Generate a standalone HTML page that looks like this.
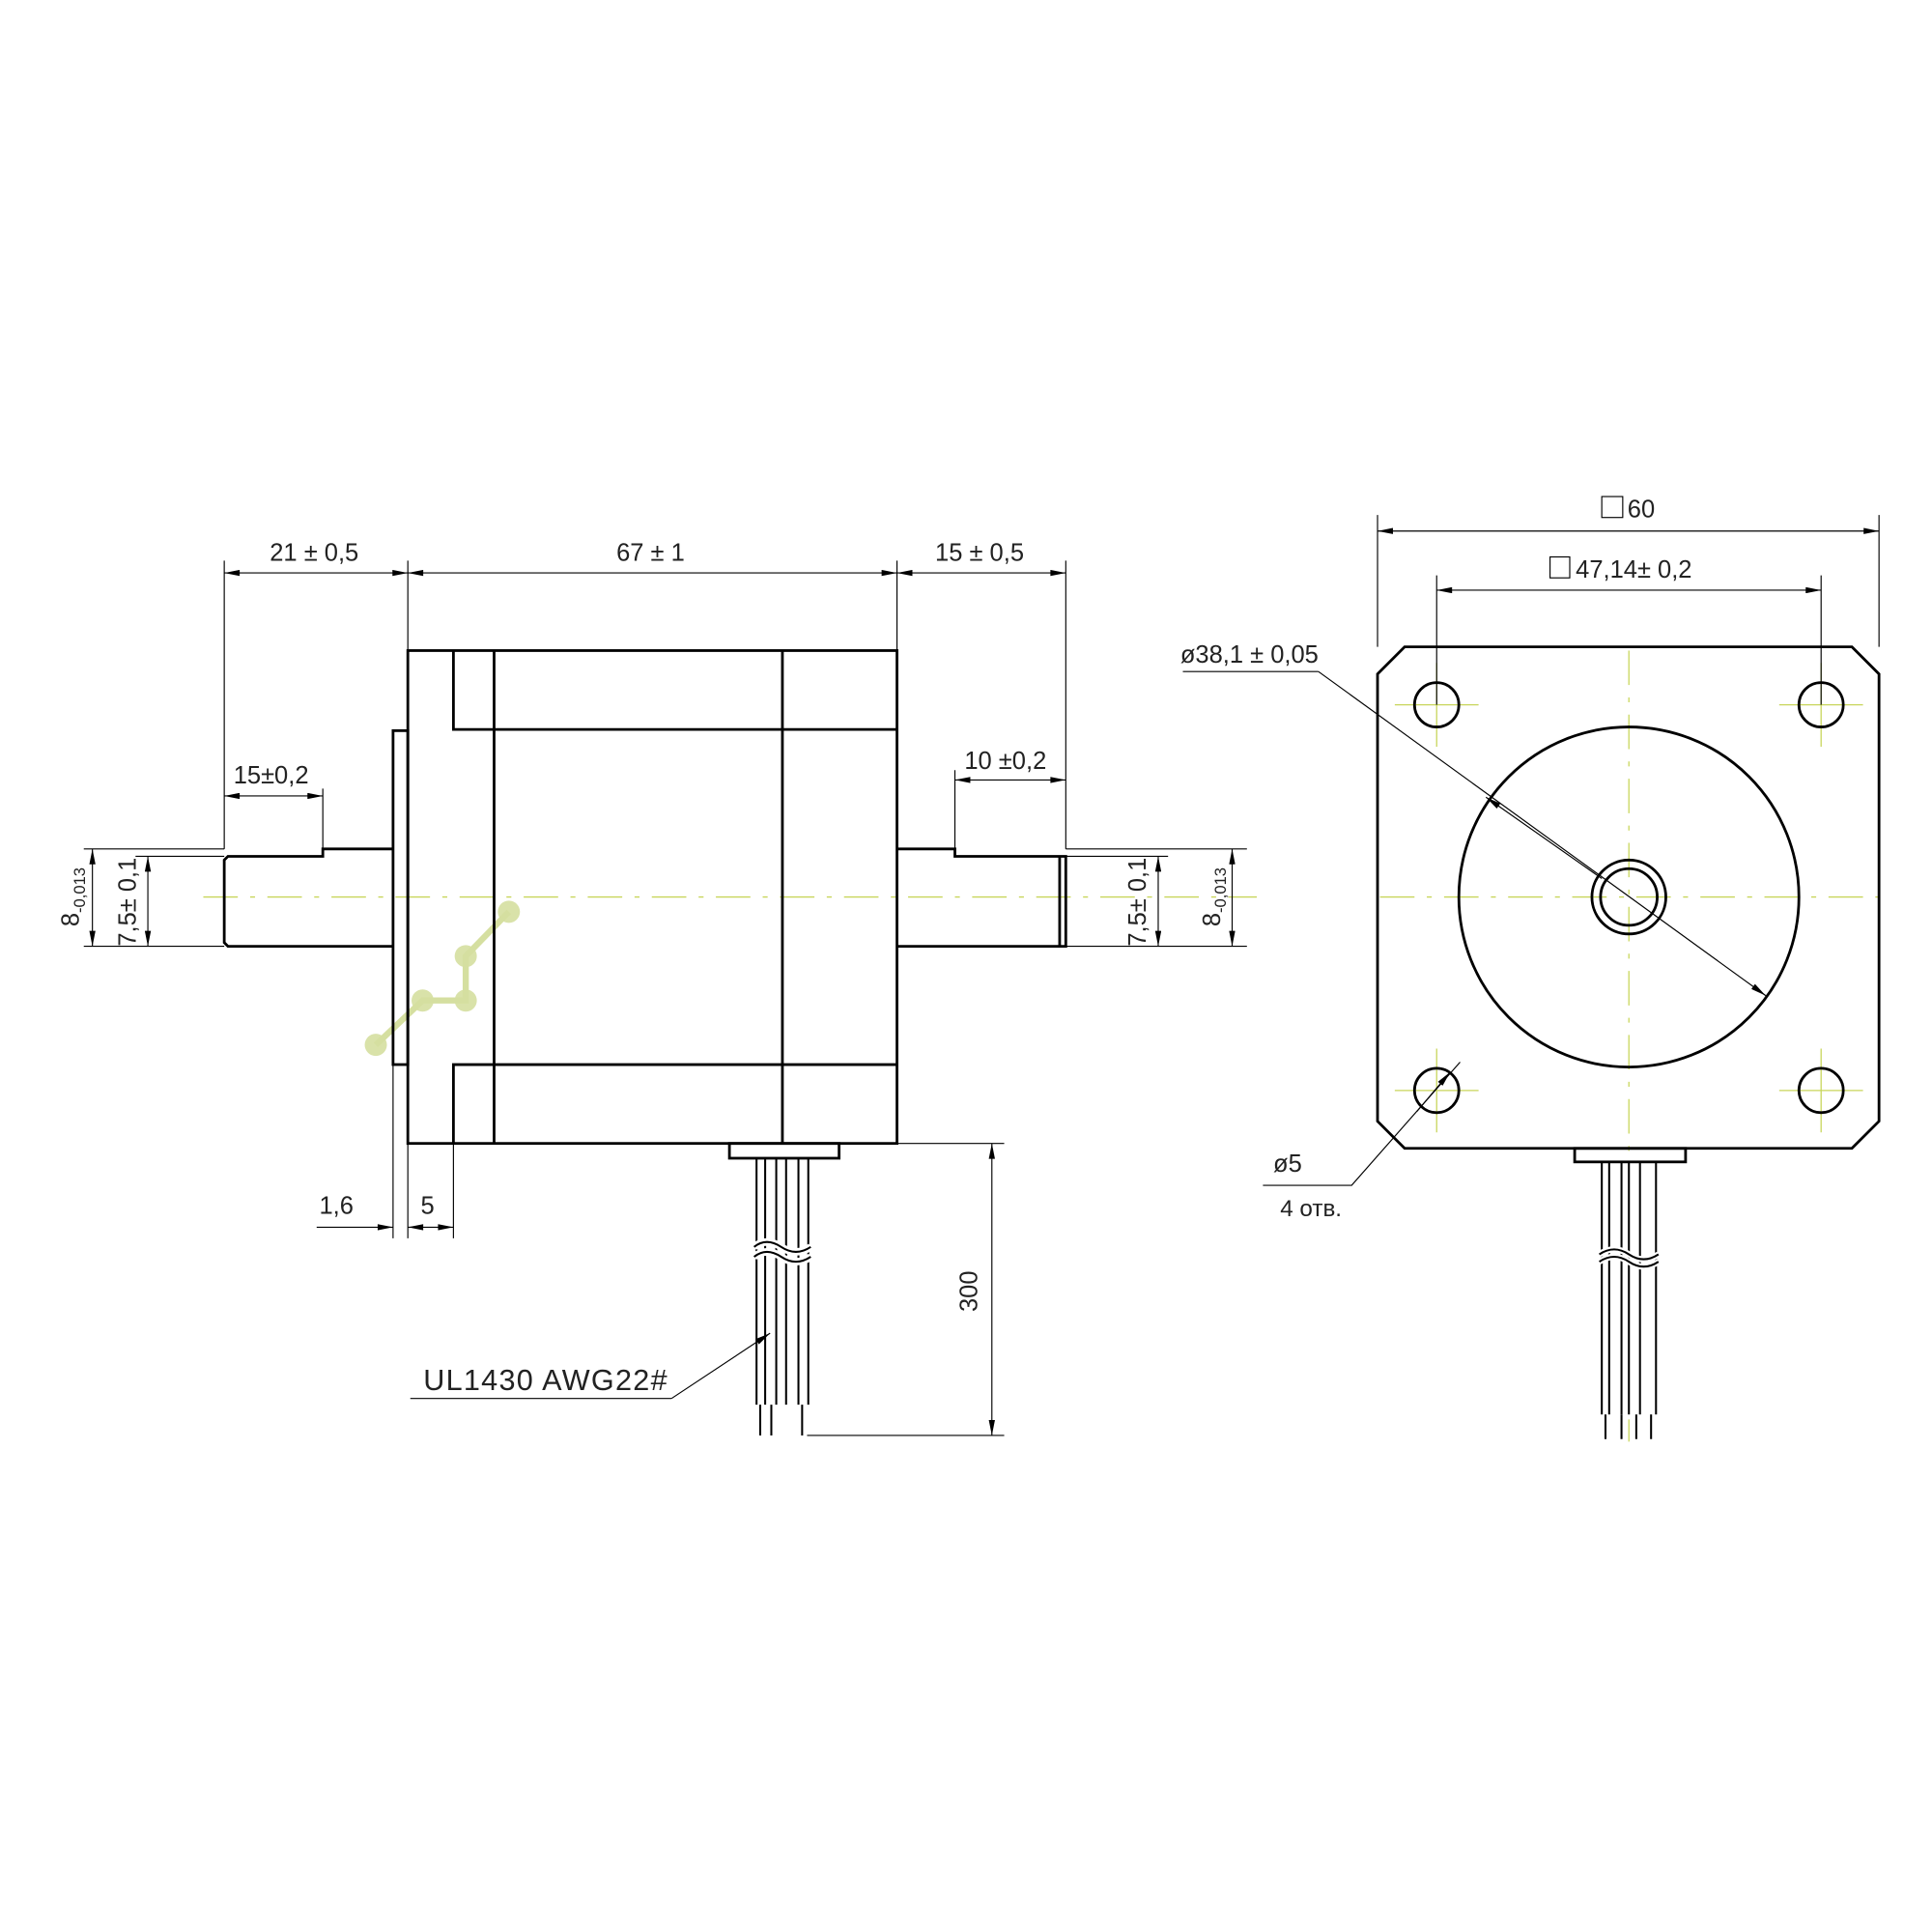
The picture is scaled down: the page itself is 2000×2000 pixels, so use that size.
<!DOCTYPE html>
<html><head><meta charset="utf-8"><style>html,body{margin:0;padding:0;background:#fff}svg{display:block}</style></head><body>
<svg width="2000" height="2000" viewBox="0 0 1568 1568" xmlns="http://www.w3.org/2000/svg">
<defs>
<marker id="a" viewBox="0 0 10 4" refX="10" refY="2" markerWidth="14" markerHeight="5" orient="auto-start-reverse" markerUnits="userSpaceOnUse"><path d="M0,0L10,2L0,4z" fill="#000"/></marker>
</defs>
<rect width="1568" height="1568" fill="#fff"/>
<g font-family="Liberation Sans, sans-serif" font-size="20" fill="#222" text-anchor="middle">
<g stroke="#c8d65a" stroke-width="1" stroke-dasharray="28,10,4,10" fill="none">
<line x1="165" y1="728" x2="1020" y2="728"/>
<line x1="1120" y1="728" x2="1525" y2="728"/>
<line x1="1322" y1="528" x2="1322" y2="1170"/>
</g>
<g stroke="#c8d65a" stroke-width="1">
<path d="M1132,572h68M1166,538v68M1444,572h68M1478,538v68M1132,885h68M1166,851v68M1444,885h68M1478,851v68"/>
</g>
<g fill="#d5dfa0" opacity="0.9">
<circle cx="413" cy="740" r="9"/><circle cx="378" cy="776" r="9"/><circle cx="378" cy="812" r="9"/><circle cx="343" cy="812" r="9"/><circle cx="305" cy="848" r="9"/>
</g>
<g stroke="#d5dfa0" stroke-width="5" fill="none"><path d="M413,740L378,776V812H343L305,848"/></g>
<g stroke="#000" stroke-width="2.2" fill="none">
<rect x="331" y="528" width="397" height="400"/>
<path d="M368,528V592H728M368,928V864H728M401,528V928M635,528V928"/>
<rect x="319" y="593" width="12" height="271"/>
<path d="M319,689H262V695H185L182,698V765L185,768H319"/>
<path d="M728,689H775V695H860V768H728M860,695H865V768H860"/>
<rect x="592" y="928" width="89" height="12"/>
</g>
<g stroke="#000" stroke-width="1.6" fill="none">
<path d="M614,940V1140M621,940V1140M630,940V1140M638,940V1140M648,940V1140M656,940V1140"/>
<path d="M612,1020q10,-8 22,0t24,0M612,1012q10,-8 22,0t24,0" stroke="#fff" stroke-width="6"/>
<path d="M612,1020q10,-8 22,0t24,0M612,1012q10,-8 22,0t24,0"/>
<path d="M617,1140V1165M626,1140V1165M651,1140V1165"/>
</g>
<g stroke="#000" stroke-width="0.9" fill="none">
<path d="M182,455V689M331,455V528M728,455V528M865,455V689"/>
<line x1="182" y1="465" x2="331" y2="465" marker-start="url(#a)" marker-end="url(#a)"/>
<line x1="331" y1="465" x2="728" y2="465" marker-start="url(#a)" marker-end="url(#a)"/>
<line x1="728" y1="465" x2="865" y2="465" marker-start="url(#a)" marker-end="url(#a)"/>
<path d="M262,640V689M775,625V689"/>
<line x1="182" y1="646" x2="262" y2="646" marker-start="url(#a)" marker-end="url(#a)"/>
<line x1="775" y1="633" x2="865" y2="633" marker-start="url(#a)" marker-end="url(#a)"/>
<path d="M68,689H182M110,695H182M68,768H182M865,689H1012M865,695H948M865,768H1012"/>
<line x1="75" y1="689" x2="75" y2="768" marker-start="url(#a)" marker-end="url(#a)"/>
<line x1="120" y1="695" x2="120" y2="768" marker-start="url(#a)" marker-end="url(#a)"/>
<line x1="940" y1="695" x2="940" y2="768" marker-start="url(#a)" marker-end="url(#a)"/>
<line x1="1000" y1="689" x2="1000" y2="768" marker-start="url(#a)" marker-end="url(#a)"/>
<path d="M319,864V1005M331,928V1005M368,928V1005"/>
<line x1="257" y1="996" x2="319" y2="996" marker-end="url(#a)"/>
<line x1="331" y1="996" x2="368" y2="996" marker-start="url(#a)" marker-end="url(#a)"/>
<path d="M681,928H815M655,1165H815"/>
<line x1="805" y1="928" x2="805" y2="1165" marker-start="url(#a)" marker-end="url(#a)"/>
<path d="M333,1135H545"/>
<line x1="545" y1="1135" x2="625" y2="1082" marker-end="url(#a)"/>
</g>
<text x="255" y="455">21 ± 0,5</text>
<text x="528" y="455">67 ± 1</text>
<text x="795" y="455">15 ± 0,5</text>
<text x="220" y="636">15±0,2</text>
<text x="816" y="624">10 ±0,2</text>
<text x="273" y="985">1,6</text>
<text x="347" y="985">5</text>
<text transform="translate(64,728) rotate(-90)">8<tspan font-size="13" dy="5">-0,013</tspan></text>
<text transform="translate(110,732) rotate(-90)">7,5± 0,1</text>
<text transform="translate(930,732) rotate(-90)">7,5± 0,1</text>
<text transform="translate(990,728) rotate(-90)">8<tspan font-size="13" dy="5">-0,013</tspan></text>
<text transform="translate(793,1048) rotate(-90)">300</text>
<text x="443" y="1128" font-size="24" letter-spacing="1">UL1430  AWG22#</text>
<g stroke="#000" stroke-width="2.2" fill="none">
<polygon points="1140,525 1503,525 1525,547 1525,910 1503,932 1140,932 1118,910 1118,547"/>
<circle cx="1166" cy="572" r="18"/><circle cx="1478" cy="572" r="18"/><circle cx="1166" cy="885" r="18"/><circle cx="1478" cy="885" r="18"/>
<circle cx="1322" cy="728" r="138"/>
<circle cx="1322" cy="728" r="30"/><circle cx="1322" cy="728" r="23"/>
<rect x="1278" y="932" width="90" height="11"/>
</g>
<g stroke="#000" stroke-width="1.6" fill="none">
<path d="M1300,943V1148M1306,943V1148M1316,943V1148M1322,943V1148M1331,943V1148M1344,943V1148"/>
<path d="M1298,1018q12,-8 24,0t24,0M1298,1024q12,-8 24,0t24,0" stroke="#fff" stroke-width="5"/>
<path d="M1298,1018q12,-8 24,0t24,0M1298,1024q12,-8 24,0t24,0"/>
<path d="M1303,1148V1168M1316,1148V1168M1328,1148V1168M1340,1148V1168"/>
</g>
<g stroke="#000" stroke-width="0.9" fill="none">
<path d="M1118,418V525M1525,418V525M1166,467V572M1478,467V572"/>
<line x1="1118" y1="431" x2="1525" y2="431" marker-start="url(#a)" marker-end="url(#a)"/>
<line x1="1166" y1="479" x2="1478" y2="479" marker-start="url(#a)" marker-end="url(#a)"/>
<path d="M960,545H1070"/>
<line x1="1070" y1="545" x2="1433" y2="808" marker-end="url(#a)"/>
<line x1="1300" y1="713" x2="1206" y2="647" marker-end="url(#a)"/>
<path d="M1025,962H1097L1185,862"/>
<line x1="1150" y1="902" x2="1177" y2="870" marker-end="url(#a)"/>
<rect x="1300" y="403" width="17" height="17"/>
<rect x="1258" y="452" width="16" height="17"/>
</g>
<text x="1332" y="420">60</text>
<text x="1326" y="469">47,14± 0,2</text>
<text x="1014" y="538">ø38,1 ± 0,05</text>
<text x="1045" y="951">ø5</text>
<text x="1064" y="987" font-size="19">4 отв.</text>
</g>
</svg>
</body></html>
